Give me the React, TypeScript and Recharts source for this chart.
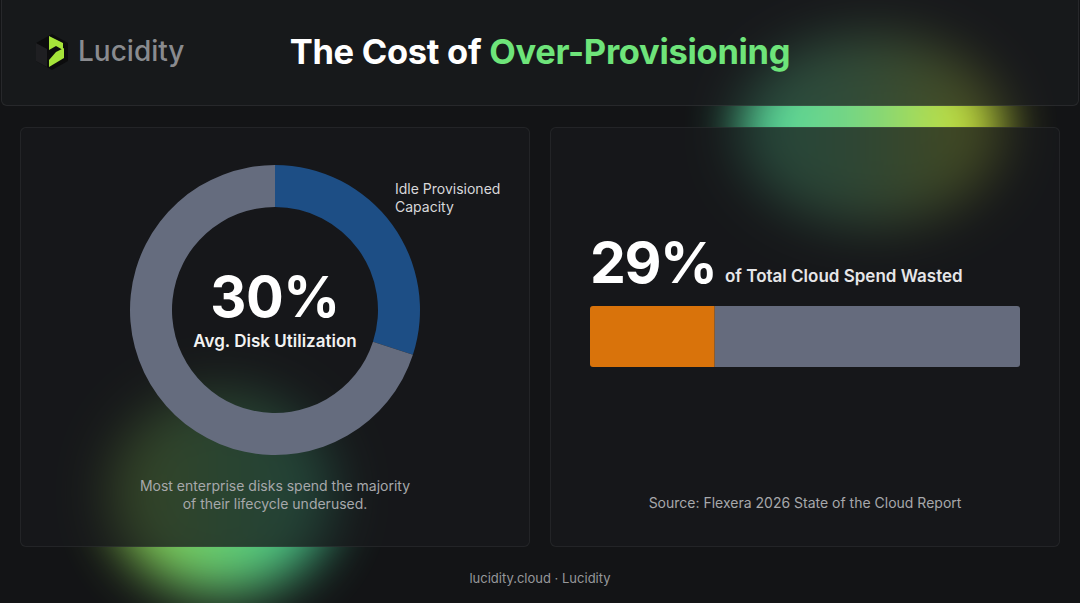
import { Bar, BarChart, Cell, Pie, PieChart, XAxis, YAxis } from "recharts";

// donut: avg disk utilization vs rest
const DISK_PARTS = ["Idle Provisioned Capacity", "Other"];
const DISK_VALUES = [30, 70];
const DISK_COLORS = ["#1d4e85", "#656c7e"];

// bar: share of cloud spend wasted
const SPEND_ROW = ["Cloud Spend"];
const SPEND_WASTED = [29];
const SPEND_REST = [71];

const TITLE_A = "The Cost of ";
const TITLE_B = "Over-Provisioning";

const FONT = "Inter, 'Noto Sans', sans-serif";

const diskData = DISK_PARTS.map((name, i) => ({ name, value: DISK_VALUES[i] }));
const spendData = SPEND_ROW.map((name, i) => ({ name, wasted: SPEND_WASTED[i], rest: SPEND_REST[i] }));

const card: React.CSSProperties = {
  position: "absolute",
  top: 127,
  width: 510,
  height: 420,
  borderRadius: 6,
  background: "rgba(24,25,28,0.76)",
  border: "1px solid rgba(255,255,255,0.06)",
  boxSizing: "border-box",
};

function Logo() {
  return (
    <svg width={34} height={38} viewBox="0 0 34 38" style={{ position: "absolute", left: 35, top: 33 }}>
      <polygon points="17,1 33,10 33,28 17,37 1,28 1,10" fill="#0c0c0d" />
      <polygon points="1,10 12,16 12,34 1,28" fill="#1f1f22" />
      <polygon points="14,3 28,10 28,17 21,13 14,17" fill="#a6e43a" />
      <polygon points="21,19 29,15 29,25 14,34 14,27" fill="#a6e43a" />
    </svg>
  );
}

export default function App() {
  return (
    <div
      style={{
        position: "fixed",
        left: 0,
        top: 0,
        width: 1080,
        height: 603,
        overflow: "hidden",
        background: "#131416",
        fontFamily: FONT,
      }}
    >
      {/* glows */}
      <div
        style={{
          position: "absolute",
          left: 738,
          top: 35,
          width: 265,
          height: 190,
          borderRadius: "50%",
          background: "linear-gradient(90deg, #4fe0a8 0%, #7ce08a 45%, #d4ea3a 88%)",
          filter: "blur(26px)",
          opacity: 0.95,
        }}
      />
      <div
        style={{
          position: "absolute",
          left: 110,
          top: 390,
          width: 225,
          height: 205,
          borderRadius: "50%",
          background: "linear-gradient(90deg, #a6e24a 0%, #6ee07c 50%, #3fd8a6 100%)",
          filter: "blur(26px)",
          opacity: 0.9,
        }}
      />

      {/* header */}
      <div
        style={{
          position: "absolute",
          left: 1,
          top: -6,
          width: 1078,
          height: 112,
          borderRadius: 6,
          background: "rgba(26,27,30,0.74)",
          border: "1px solid rgba(255,255,255,0.07)",
          boxSizing: "border-box",
        }}
      />
      <Logo />
      <div style={{ position: "absolute", left: 78, top: 34, fontSize: 28, fontWeight: 500, color: "#8a8b8f" }}>
        Lucidity
      </div>
      <div
        style={{
          position: "absolute",
          left: 0,
          width: 1080,
          top: 31,
          textAlign: "center",
          fontSize: 34.5,
          fontWeight: 700,
          color: "#ffffff",
          letterSpacing: -0.3,
        }}
      >
        {TITLE_A}
        <span style={{ color: "#6ee47a" }}>{TITLE_B}</span>
      </div>

      {/* left card */}
      <div style={{ ...card, left: 20 }} />
      <div style={{ position: "absolute", left: 125, top: 160 }}>
        <PieChart width={300} height={300} margin={{ top: 0, right: 0, bottom: 0, left: 0 }}>
          <Pie
            data={diskData}
            dataKey="value"
            nameKey="name"
            cx={150}
            cy={150}
            innerRadius={103}
            outerRadius={145}
            startAngle={90}
            endAngle={-270}
            stroke="none"
            isAnimationActive={false}
          >
            {diskData.map((d, i) => (
              <Cell key={d.name} fill={DISK_COLORS[i]} />
            ))}
          </Pie>
        </PieChart>
      </div>
      <div
        style={{
          position: "absolute",
          left: 125,
          width: 300,
          top: 263,
          textAlign: "center",
          fontSize: 56,
          fontWeight: 700,
          color: "#fff",
          lineHeight: "68px",
          letterSpacing: -0.5,
        }}
      >
        30%
      </div>
      <div
        style={{
          position: "absolute",
          left: 125,
          width: 300,
          top: 331,
          textAlign: "center",
          fontSize: 17,
          fontWeight: 600,
          color: "#f2f2f2",
        }}
      >
        Avg. Disk Utilization
      </div>
      <div style={{ position: "absolute", left: 395, top: 180, fontSize: 14, color: "#d8d8da", lineHeight: "18px" }}>
        Idle Provisioned
        <br />
        Capacity
      </div>
      <div
        style={{
          position: "absolute",
          left: 20,
          width: 510,
          top: 477,
          textAlign: "center",
          fontSize: 14,
          color: "#a7a8ab",
          lineHeight: "18px",
        }}
      >
        Most enterprise disks spend the majority
        <br />
        of their lifecycle underused.
      </div>

      {/* right card */}
      <div style={{ ...card, left: 550 }} />
      <div
        style={{
          position: "absolute",
          left: 590,
          top: 228,
          fontSize: 57,
          fontWeight: 700,
          color: "#fff",
          lineHeight: "70px",
          letterSpacing: -1.5,
        }}
      >
        29%
      </div>
      <div style={{ position: "absolute", left: 725, top: 266, fontSize: 17, fontWeight: 600, color: "#e6e6e8" }}>
        of Total Cloud Spend Wasted
      </div>
      <div style={{ position: "absolute", left: 590, top: 306 }}>
        <BarChart
          width={430}
          height={61}
          data={spendData}
          layout="vertical"
          margin={{ top: 0, right: 0, bottom: 0, left: 0 }}
          barCategoryGap={0}
        >
          <XAxis type="number" domain={[0, 100]} hide />
          <YAxis type="category" dataKey="name" hide />
          <Bar dataKey="wasted" stackId="s" fill="#d9730b" radius={[3, 0, 0, 3]} isAnimationActive={false} />
          <Bar dataKey="rest" stackId="s" fill="#656b7d" radius={[0, 3, 3, 0]} isAnimationActive={false} />
        </BarChart>
      </div>
      <div
        style={{
          position: "absolute",
          left: 550,
          width: 510,
          top: 494,
          textAlign: "center",
          fontSize: 14,
          color: "#a7a8ab",
        }}
      >
        Source: Flexera 2026 State of the Cloud Report
      </div>

      {/* footer */}
      <div
        style={{
          position: "absolute",
          left: 0,
          width: 1080,
          top: 570,
          textAlign: "center",
          fontSize: 13,
          color: "#97989b",
        }}
      >
        lucidity.cloud · Lucidity
      </div>
    </div>
  );
}
